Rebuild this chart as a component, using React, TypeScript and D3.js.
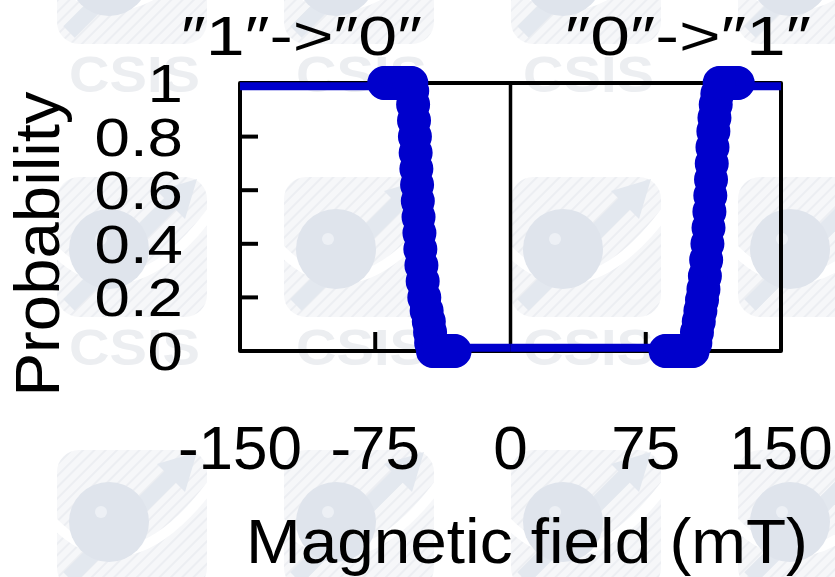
import React from "react";
import * as d3 from "d3";

// "1" -> "0" switching sweep (negative field), mT / probability
const downField = [
  -70, -69, -68, -67, -66, -65, -64, -63, -62, -61, -60, -59, -58, -57, -56, -55,
  -54.5, -54, -53.5, -53, -52.6, -52.2, -51.8, -51.4, -51, -50.5, -50, -49.4, -48.7,
  -47.8, -46.5, -45.3, -44.6, -44,
  -43, -42, -41, -40, -39, -38, -37, -36, -35, -34, -33, -32, -31,
];
const downProb = [
  1, 1, 1, 1, 1, 1, 1, 1, 1, 1, 1, 1, 1, 1, 1, 1,
  0.97, 0.92, 0.86, 0.8, 0.74, 0.68, 0.62, 0.56, 0.5, 0.44, 0.38, 0.32, 0.26,
  0.2, 0.15, 0.11, 0.07, 0.03,
  0, 0, 0, 0, 0, 0, 0, 0, 0, 0, 0, 0, 0,
];

// "0" -> "1" switching sweep (positive field)
const upField = [
  86, 87, 88, 89, 90, 91, 92, 93, 94, 95, 96, 97, 98, 99, 100, 101,
  102.5, 103.4, 104.4, 105.3, 106.2, 107.0, 107.8, 108.5, 109.2, 109.8, 110.3,
  110.8, 111.2, 111.6, 112.0, 112.5, 113.1, 113.8, 114.7,
  116, 117, 118, 119, 120, 121, 122, 123, 124, 125, 126,
];
const upProb = [
  0, 0, 0, 0, 0, 0, 0, 0, 0, 0, 0, 0, 0, 0, 0, 0,
  0.03, 0.07, 0.11, 0.15, 0.19, 0.23, 0.28, 0.34, 0.4, 0.46, 0.52,
  0.58, 0.64, 0.7, 0.76, 0.82, 0.87, 0.92, 0.96,
  1, 1, 1, 1, 1, 1, 1, 1, 1, 1, 1,
];

// plateau levels of the swept traces outside the measured window
const traceEnds = { low: 0.012, high: 0.988 };

const xTicks = [-150, -75, 0, 75, 150];
const yTicks = [0, 0.2, 0.4, 0.6, 0.8, 1];
const yTickLabels = ["0", "0.2", "0.4", "0.6", "0.8", "1"];
const xLabel = "Magnetic field (mT)";
const yLabel = "Probability";
const leftTitle = "\u20331\u2033->\u20330\u2033";
const rightTitle = "\u20330\u2033->\u20331\u2033";
const stampText = "CSIS";

const W = 835;
const H = 577;
const BLUE = "#0000cc";
const FONT = "'Liberation Sans', Arial, sans-serif";

// faint tiled stamp behind the chart
function Stamp() {
  const cols = [-1, 0, 1, 2, 3];
  const rows = [-1, 0, 1];
  const items: React.ReactNode[] = [];
  cols.forEach((i) => {
    rows.forEach((j) => {
      const cx = 69 + 227 * i;
      const ty = 92 + 273 * j;
      const lx = cx - 12;
      const ly = 177 + 273 * j;
      const showText = i >= 0 && i <= 2 && j >= 0;
      items.push(
        <g key={`w${i}_${j}`}>
          {showText && (
            <text x={cx} y={ty} fontFamily={FONT} fontWeight="bold" fontSize={50}
              fill="#eceef1" textLength={131} lengthAdjust="spacingAndGlyphs">{stampText}</text>
          )}
          <rect x={lx} y={ly} width={150} height={140} rx={22} fill="url(#hatch)" />
          <path d={`M${lx - 6},${ly + 70} Q${lx + 70},${ly + 150} ${lx + 158},${ly + 30}`}
            fill="none" stroke="#ffffff" strokeWidth={10} />
          <line x1={lx + 12} y1={ly + 128} x2={lx + 118} y2={ly + 22}
            stroke="#e3e8ef" strokeWidth={16} />
          <path d={`M${lx + 140},${ly + 2} L${lx + 100},${ly + 14} L${lx + 128},${ly + 42} Z`}
            fill="#e3e8ef" />
          <circle cx={lx + 52} cy={ly + 72} r={40} fill="#dfe4ec" />
          <circle cx={lx + 44} cy={ly + 62} r={6} fill="#edf0f5" />
        </g>
      );
    });
  });
  return <g>{items}</g>;
}

export default function App() {
  const x = d3.scaleLinear().domain([-150, 150]).range([240, 781]);
  const y = d3.scaleLinear().domain([0, 1]).range([351, 83]);

  const downPts: [number, number][] = downField.map((h, i) => [h, downProb[i]]);
  const upPts: [number, number][] = upField.map((h, i) => [h, upProb[i]]);

  const line = d3
    .line<[number, number]>()
    .x((d) => x(d[0]))
    .y((d) => y(d[1]));

  const downTrace: [number, number][] = [
    [-150, traceEnds.high],
    [downField[0], traceEnds.high],
    ...downPts,
    [downField[downField.length - 1], traceEnds.low],
    [0, traceEnds.low],
  ];
  const upTrace: [number, number][] = [
    [0, traceEnds.low],
    [upField[0], traceEnds.low],
    ...upPts,
    [upField[upField.length - 1], traceEnds.high],
    [150, traceEnds.high],
  ];

  const [x0, x1] = x.range();
  const [y0, y1] = y.range();

  return (
    <svg width={W} height={H} style={{ position: "absolute", left: 0, top: 0, background: "#fff" }}>
      <defs>
        <pattern id="hatch" width={8} height={8} patternUnits="userSpaceOnUse"
          patternTransform="rotate(45)">
          <rect width={8} height={8} fill="#f6f7f9" />
          <line x1={0} y1={0} x2={0} y2={8} stroke="#eceef2" strokeWidth={4} />
        </pattern>
      </defs>
      <Stamp />

      {/* frame */}
      <path d={`M${x0},${y1} L${x1},${y1} L${x1},${y0} L${x0},${y0} Z`}
        fill="none" stroke="#000" strokeWidth={4} strokeLinejoin="round" />
      <line x1={x(0)} x2={x(0)} y1={y1} y2={y0} stroke="#000" strokeWidth={3.5} />
      {yTicks.filter((t) => t > 0 && t < 1).map((t) => (
        <line key={`yt${t}`} x1={x0} x2={x0 + 18} y1={y(t)} y2={y(t)} stroke="#000" strokeWidth={4} />
      ))}
      {[-75, 75].map((t) => (
        <line key={`xt${t}`} x1={x(t)} x2={x(t)} y1={y0} y2={y0 - 19} stroke="#000" strokeWidth={4} />
      ))}

      {/* traces */}
      <path d={line(downTrace) || ""} fill="none" stroke={BLUE} strokeWidth={8} />
      <path d={line(upTrace) || ""} fill="none" stroke={BLUE} strokeWidth={8} />
      {downPts.map((d, i) => (
        <circle key={`d${i}`} cx={x(d[0])} cy={y(d[1])} r={10} fill="none" stroke={BLUE} strokeWidth={14} />
      ))}
      {upPts.map((d, i) => (
        <circle key={`u${i}`} cx={x(d[0])} cy={y(d[1])} r={10} fill="none" stroke={BLUE} strokeWidth={14} />
      ))}

      {/* tick labels */}
      {yTicks.map((t, i) => (
        <text key={`yl${t}`} transform={`translate(183,${y(t) + 19}) scale(1.2,1)`}
          textAnchor="end" fontFamily={FONT} fontSize={53} fill="#000">{yTickLabels[i]}</text>
      ))}
      {xTicks.map((t) => (
        <text key={`xl${t}`} x={x(t)} y={469} textAnchor="middle" fontFamily={FONT}
          fontSize={62} fill="#000">{t}</text>
      ))}

      {/* axis titles */}
      <text x={246} y={563} fontFamily={FONT} fontSize={63} fill="#000"
        textLength={562} lengthAdjust="spacingAndGlyphs">{xLabel}</text>
      <text transform="translate(59,244) rotate(-90)" textAnchor="middle" fontFamily={FONT}
        fontSize={63} fill="#000" textLength={305} lengthAdjust="spacingAndGlyphs">{yLabel}</text>

      {/* sweep direction labels */}
      <text x={181} y={55} fontFamily={FONT} fontSize={56} fill="#000"
        textLength={241} lengthAdjust="spacingAndGlyphs">{leftTitle}</text>
      <text x={565} y={55} fontFamily={FONT} fontSize={56} fill="#000"
        textLength={246} lengthAdjust="spacingAndGlyphs">{rightTitle}</text>
    </svg>
  );
}
